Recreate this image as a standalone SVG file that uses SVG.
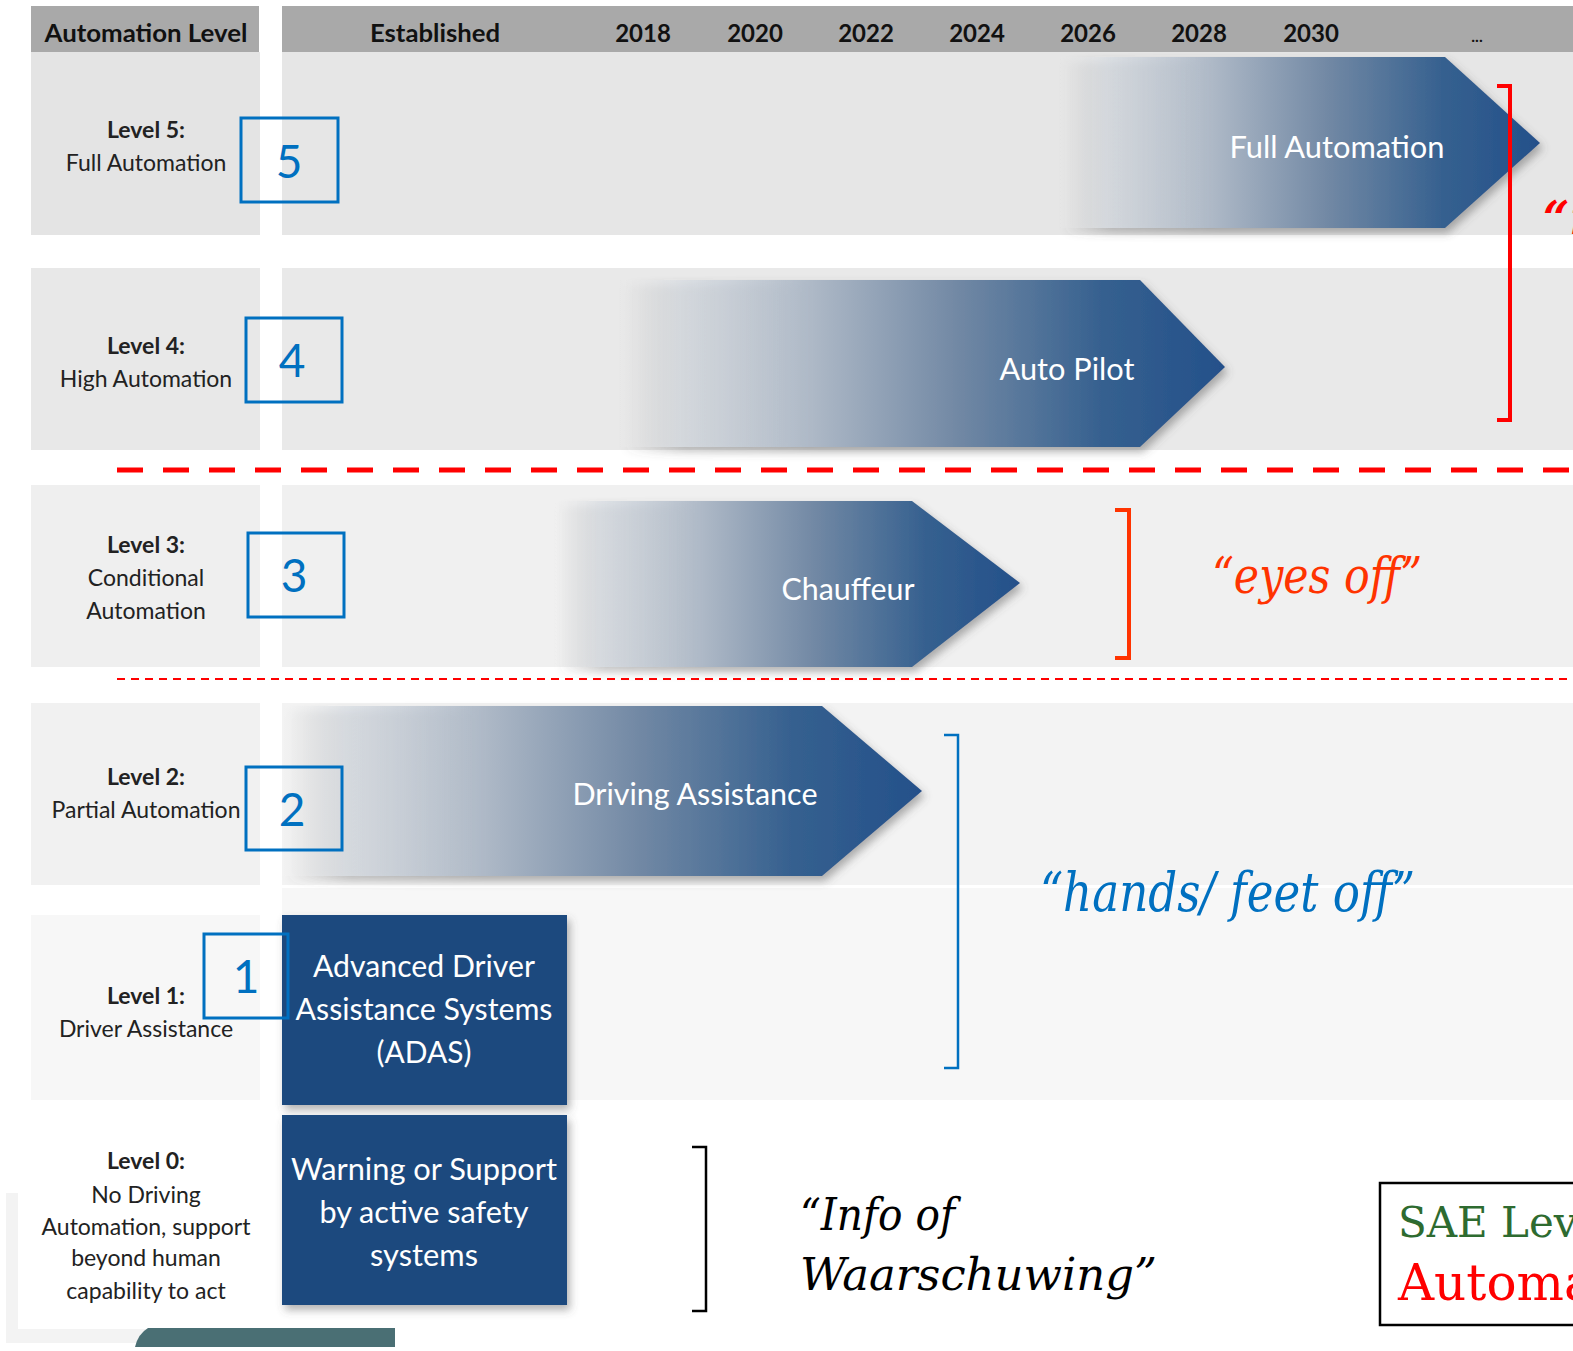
<svg xmlns="http://www.w3.org/2000/svg" width="1573" height="1351" viewBox="0 0 1573 1351">
<defs>
<style>
.hdr{fill:#a9a9a9}
.lbl{font-family:Lato,"Liberation Sans",sans-serif;font-size:23px;fill:#222;text-anchor:middle}
.lblb{font-weight:bold}
.hd{font-family:Lato,"Liberation Sans",sans-serif;font-size:24px;font-weight:bold;fill:#111;text-anchor:middle}
.num rect{fill:none;stroke:#0070c0;stroke-width:3}
.num text{font-family:Lato,"Open Sans",sans-serif;font-size:46px;fill:#0070c0;text-anchor:middle}
.arr text,.box text{font-family:Lato,"Liberation Sans",sans-serif;font-size:30px;fill:#fff;text-anchor:middle}
.box rect{fill:#1f4a7e}
.q{font-family:"DejaVu Serif",serif;font-style:italic}
</style>
<linearGradient id="ag" x1="0" y1="0" x2="1" y2="0">
<stop offset="0" stop-color="#e8e8e8" stop-opacity="0"/>
<stop offset="0.1" stop-color="#d8dde3" stop-opacity="0.75"/>
<stop offset="0.32" stop-color="#adb8c6"/>
<stop offset="0.56" stop-color="#7188a4"/>
<stop offset="0.8" stop-color="#35608f"/>
<stop offset="1" stop-color="#24508a"/>
</linearGradient>
<filter id="sh" x="-5%" y="-10%" width="115%" height="125%">
<feDropShadow dx="3" dy="5" stdDeviation="4" flood-color="#555" flood-opacity="0.45"/>
</filter>
</defs>

<rect width="1573" height="1351" fill="#fff"/>

<g id="header">
<rect class="hdr" x="31" y="6" width="228" height="46"/>
<rect class="hdr" x="282" y="6" width="1291" height="46"/>
<text class="hd" x="146" y="42" textLength="203" lengthAdjust="spacingAndGlyphs">Automation Level</text>
<text class="hd" x="435" y="42" textLength="130" lengthAdjust="spacingAndGlyphs">Established</text>
<text class="hd" x="643" y="42">2018</text>
<text class="hd" x="755" y="42">2020</text>
<text class="hd" x="866" y="42">2022</text>
<text class="hd" x="977" y="42">2024</text>
<text class="hd" x="1088" y="42">2026</text>
<text class="hd" x="1199" y="42">2028</text>
<text class="hd" x="1311" y="42">2030</text>
<text class="hd" x="1477" y="42" style="font-size:16px">...</text>
</g>

<g id="rows">
<rect x="31" y="52" width="229" height="183" fill="#e4e4e4"/>
<rect x="282" y="52" width="1291" height="183" fill="#e6e6e6"/>
<rect x="31" y="268" width="229" height="182" fill="#e8e8e8"/>
<rect x="282" y="268" width="1291" height="182" fill="#e9e9e9"/>
<rect x="31" y="485" width="229" height="182" fill="#efefef"/>
<rect x="282" y="485" width="1291" height="182" fill="#f0f0f0"/>
<rect x="31" y="703" width="229" height="182" fill="#f1f1f1"/>
<rect x="282" y="703" width="1291" height="182" fill="#f3f3f3"/>
<rect x="31" y="915" width="229" height="185" fill="#f7f7f7"/>
<rect x="282" y="888" width="1291" height="212" fill="#f7f7f7"/>
<rect x="6" y="1193" width="389" height="150" fill="#f3f3f3"/>
<rect x="18" y="1193" width="377" height="136" fill="#fff"/>
<path d="M135,1347 Q138,1334 148,1328 L395,1328 L395,1347 Z" fill="#4a6f74"/>
</g>

<g id="labels">
<text class="lbl" x="146" y="138"><tspan class="lblb" x="146">Level 5:</tspan><tspan x="146" dy="33">Full Automation</tspan></text>
<text class="lbl" x="146" y="354"><tspan class="lblb" x="146">Level 4:</tspan><tspan x="146" dy="33">High Automation</tspan></text>
<text class="lbl" x="146" y="553"><tspan class="lblb" x="146">Level 3:</tspan><tspan x="146" dy="33">Conditional</tspan><tspan x="146" dy="33">Automation</tspan></text>
<text class="lbl" x="146" y="785"><tspan class="lblb" x="146">Level 2:</tspan><tspan x="146" dy="33">Partial Automation</tspan></text>
<text class="lbl" x="146" y="1004"><tspan class="lblb" x="146">Level 1:</tspan><tspan x="146" dy="33">Driver Assistance</tspan></text>
<text class="lbl" x="146" y="1169"><tspan class="lblb" x="146">Level 0:</tspan><tspan x="146" dy="34">No Driving</tspan><tspan x="146" dy="32">Automation, support</tspan><tspan x="146" dy="31">beyond human</tspan><tspan x="146" dy="33">capability to act</tspan></text>
</g>

<g id="arrow-full" class="arr">
<polygon points="1060,57 1445,57 1540,143 1445,228 1060,228" fill="url(#ag)" filter="url(#sh)"/>
<text x="1337" y="158" textLength="215" lengthAdjust="spacingAndGlyphs">Full Automation</text>
</g>
<g id="arrow-autopilot" class="arr">
<polygon points="620,280 1140,280 1225,367 1140,447 620,447" fill="url(#ag)" filter="url(#sh)"/>
<text x="1067" y="380" textLength="135" lengthAdjust="spacingAndGlyphs">Auto Pilot</text>
</g>
<g id="arrow-chauffeur" class="arr">
<polygon points="555,501 912,501 1020,583 912,667 555,667" fill="url(#ag)" filter="url(#sh)"/>
<text x="848" y="600" textLength="133" lengthAdjust="spacingAndGlyphs">Chauffeur</text>
</g>
<g id="arrow-driving" class="arr">
<polygon points="282,706 822,706 922,791 822,876 282,876" fill="url(#ag)" filter="url(#sh)"/>
<text x="695" y="805" textLength="245" lengthAdjust="spacingAndGlyphs">Driving Assistance</text>
</g>

<g id="box-adas" class="box">
<rect x="282" y="915" width="285" height="190" filter="url(#sh)"/>
<text x="424" y="977" textLength="222" lengthAdjust="spacingAndGlyphs">Advanced Driver</text>
<text x="424" y="1020" textLength="257" lengthAdjust="spacingAndGlyphs">Assistance Systems</text>
<text x="424" y="1063" textLength="95" lengthAdjust="spacingAndGlyphs">(ADAS)</text>
</g>
<g id="box-warning" class="box">
<rect x="282" y="1115" width="285" height="190" filter="url(#sh)"/>
<text x="424" y="1180" textLength="266" lengthAdjust="spacingAndGlyphs">Warning or Support</text>
<text x="424" y="1223" textLength="209" lengthAdjust="spacingAndGlyphs">by active safety</text>
<text x="424" y="1266" textLength="108" lengthAdjust="spacingAndGlyphs">systems</text>
</g>

<g id="num5" class="num"><rect x="241" y="118" width="97" height="84"/><text x="289" y="178">5</text></g>
<g id="num4" class="num"><rect x="246" y="318" width="96" height="84"/><text x="292" y="377">4</text></g>
<g id="num3" class="num"><rect x="248" y="533" width="96" height="84"/><text x="294" y="592">3</text></g>
<g id="num2" class="num"><rect x="246" y="767" width="96" height="83"/><text x="292" y="826">2</text></g>
<g id="num1" class="num"><rect x="204" y="934" width="84" height="84"/><text x="246" y="993">1</text></g>

<g id="connectors">
<line x1="117" y1="470" x2="1573" y2="470" stroke="#ff0000" stroke-width="5" stroke-dasharray="26 20"/>
<line x1="117" y1="679" x2="1573" y2="679" stroke="#ff0000" stroke-width="2" stroke-dasharray="8 6"/>
<polyline points="1497,86 1510,86 1510,420 1497,420" fill="none" stroke="#ff0000" stroke-width="4"/>
<polyline points="1115,510 1129,510 1129,658 1115,658" fill="none" stroke="#ff3300" stroke-width="4"/>
<polyline points="944,735 958,735 958,1068 944,1068" fill="none" stroke="#0070c0" stroke-width="2.5"/>
<polyline points="692,1147 706,1147 706,1311 692,1311" fill="none" stroke="#000" stroke-width="2.5"/>
</g>

<g id="annotations">
<text class="q" x="1543" y="234" font-size="46" font-weight="bold" fill="#ff0000">“mind off”</text>
<text class="q" x="1212" y="593" font-size="50" fill="#ff3300" textLength="210" lengthAdjust="spacingAndGlyphs">“eyes off”</text>
<text class="q" x="1040" y="911" font-size="54" fill="#0070c0" textLength="375" lengthAdjust="spacingAndGlyphs">“hands/ feet off”</text>
<text class="q" x="800" y="1230" font-size="44" fill="#000" textLength="155" lengthAdjust="spacingAndGlyphs">“Info of</text>
<text class="q" x="800" y="1290" font-size="44" fill="#000" textLength="357" lengthAdjust="spacingAndGlyphs">Waarschuwing”</text>
</g>

<g id="sae">
<rect x="1380" y="1183" width="200" height="142" fill="#fff" stroke="#000" stroke-width="2.5"/>
<text x="1398" y="1237" font-family="'DejaVu Serif',serif" font-size="42" fill="#2e6b30">SAE Levels</text>
<text x="1398" y="1300" font-family="'DejaVu Serif',serif" font-size="50" fill="#ff0000">Automation</text>
</g>
</svg>
